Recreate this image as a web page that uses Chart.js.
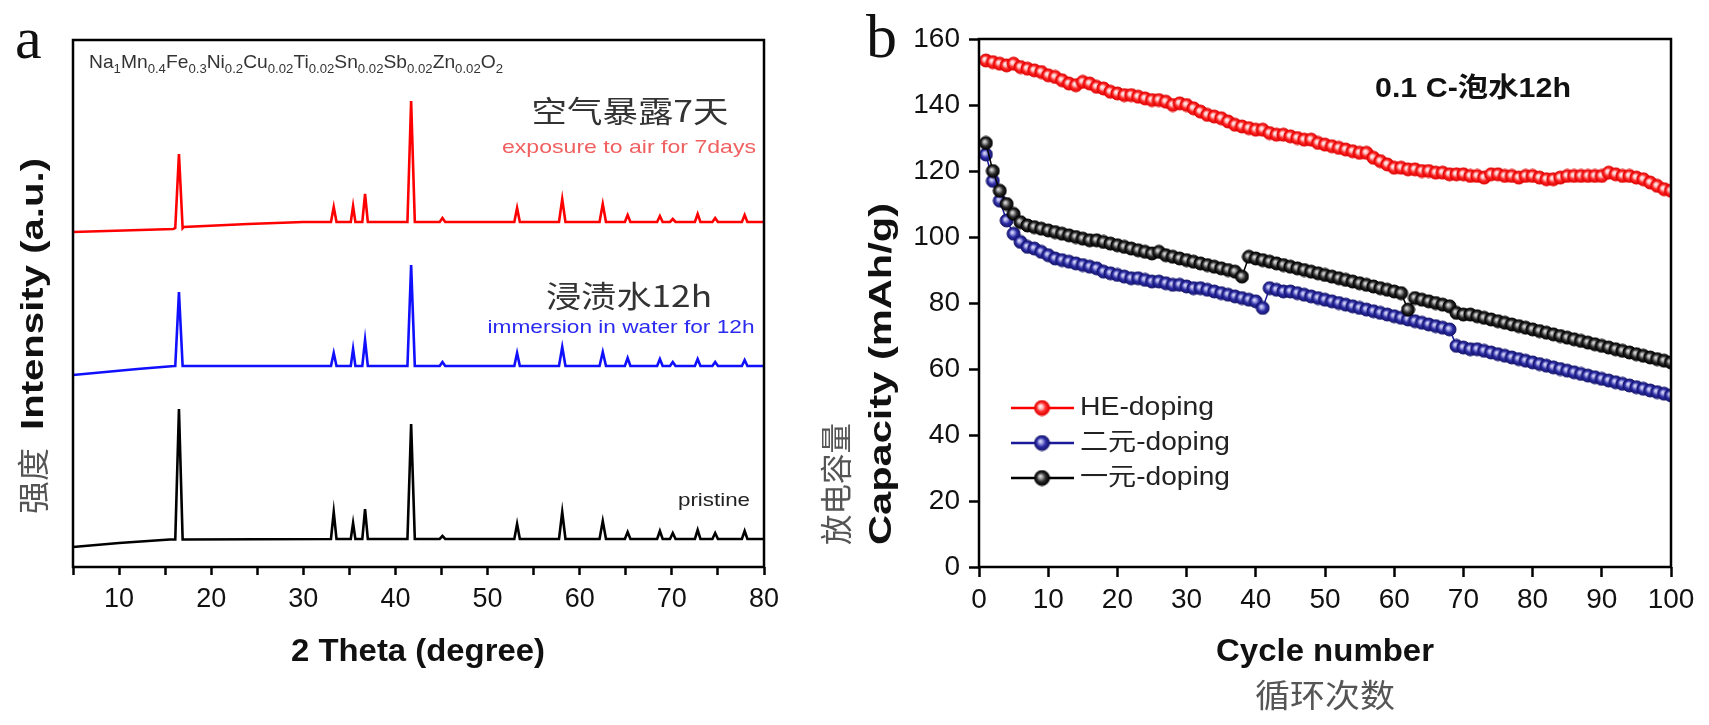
<!DOCTYPE html>
<html>
<head>
<meta charset="utf-8">
<script src="https://cdn.jsdelivr.net/npm/chart.js@4.4.1/dist/chart.umd.min.js"></script>
<style>
  html, body { margin: 0; padding: 0; background: #fff; }
  body { width: 1709px; height: 725px; position: relative; overflow: hidden; }
  #panelA { position: absolute; left: 0; top: 0; }
  #panelB { position: absolute; left: 800px; top: 0; }
</style>
</head>
<body>
<canvas id="panelA" width="800" height="725"></canvas>
<canvas id="panelB" width="909" height="725"></canvas>
<script>
// ---- panel a: XRD patterns ----
const peakPos   = [16.5, 33.3, 35.4, 36.7, 41.7, 45.1, 53.2, 58.1, 62.5, 65.2, 68.7, 70.1, 72.8, 74.7, 77.9];
const peakHalfW = [0.4, 0.3, 0.25, 0.3, 0.4, 0.3, 0.3, 0.35, 0.35, 0.3, 0.3, 0.3, 0.3, 0.3, 0.3];

const airTop  = [413, 360, 361, 373, 466, 349, 359, 368, 363, 352, 351, 348, 353, 349, 352];
const airFoot = [339, 345, 345, 345, 345, 345, 345, 345, 345, 345, 345, 345, 345, 345, 345];
const airBase = [[5, 335], [15.9, 338], [17, 340], [24, 343], [30, 345], [80, 345]];

const waterTop  = [275, 214, 218, 227, 302, 205, 214, 220, 215, 209, 208, 205, 208, 205, 207];
const waterFoot = [201, 201, 201, 201, 201, 201, 201, 201, 201, 201, 201, 201, 201, 201, 201];
const waterBase = [[5, 192], [12, 198], [16, 201], [80, 201]];

const pristineTop  = [158, 55, 44, 58, 143, 31, 43, 55, 46, 35, 36, 34, 37, 34, 36];
const pristineFoot = [27.5, 28, 28, 28, 28, 28, 28, 28, 28, 28, 28, 28, 28, 28, 28];
const pristineBase = [[5, 20], [10, 24], [15.5, 27.5], [80, 28]];

// ---- panel b: cycling ----
const cycles = Array.from({ length: 100 }, (_, i) => i + 1);
const heDoping = [
  153.5, 153, 152.5, 152, 152.5, 151.5, 151, 150.5, 150, 149,
  148.5, 147.5, 146.5, 146, 147, 146.5, 145.5, 145, 144, 143.5,
  143, 143, 142.5, 142, 141.5, 141.5, 141, 140, 140.5, 140,
  139, 138, 137, 136.5, 136, 135, 134, 133.5, 133, 132.5,
  132.5, 131.5, 131, 131, 130.5, 130, 129.5, 129.5, 128.5, 128,
  127.5, 127, 126.5, 126, 125.5, 125.5, 124, 123, 122, 121,
  121, 120.5, 120.5, 120, 120, 119.5, 119.5, 119, 119, 119,
  118.5, 118.5, 118, 119, 119, 118.5, 118.5, 118, 118.5, 118.5,
  118, 117.5, 117.5, 118, 118.5, 118.5, 118.5, 118.5, 118.5, 118.5,
  119.5, 119, 118.5, 118.5, 118, 117.5, 116.5, 115.5, 114.5, 114
];
const binaryDoping = [
  125, 117, 111, 105, 101, 98.5, 97, 96.5, 95.5, 94.5,
  93.5, 93, 92.5, 92, 91.5, 91, 90.5, 89.5, 89, 88.5,
  88, 87.5, 87.5, 87, 86.5, 86.5, 86, 85.5, 85.5, 85,
  84.5, 84.5, 84, 83.5, 83, 82.5, 82, 81.5, 81, 80.5,
  78.5, 84.5, 84, 83.5, 83.5, 83, 82.5, 82, 81.5, 81,
  80.5, 80, 79.5, 79, 78.5, 78, 77.5, 77, 76.5, 76,
  75.5, 75, 74.5, 74, 73.5, 73, 72.5, 72, 67, 66.5,
  66, 66, 65.5, 65, 64.5, 64, 63.5, 63, 62.5, 62,
  61.5, 61, 60.5, 60, 59.5, 59, 58.5, 58, 57.5, 57,
  56.5, 56, 55.5, 55, 54.5, 54, 53.5, 53, 52.5, 52
];
const unaryDoping = [
  128.5, 120, 114, 110, 107, 104.5, 103.5, 103, 102.5, 102,
  101.5, 101, 100.5, 100, 99.5, 99, 99, 98.5, 98, 97.5,
  97, 96.5, 96, 95.5, 95, 95.5, 94.5, 94, 93.5, 93,
  92.5, 92, 91.5, 91, 90.5, 90, 89.5, 88, 94, 93.5,
  93, 92.5, 92, 91.5, 91, 90.5, 90, 89.5, 89, 88.5,
  88, 87.5, 87, 86.5, 86, 85.5, 85, 84.5, 84, 83.5,
  83, 78, 81.5, 81, 80.5, 80, 79.5, 79, 77, 76.5,
  76.5, 76, 75.5, 75, 74.5, 74, 73.5, 73, 72.5, 72,
  71.5, 71, 70.5, 70, 69.5, 69, 68.5, 68, 67.5, 67,
  66.5, 66, 65.5, 65, 64.5, 64, 63.5, 63, 62.5, 62
];
const seriesNames = ["HE-doping", "二元-doping", "一元-doping"];

const SANS = "'Liberation Sans', Arial, sans-serif";
const CJK = "'Noto Sans CJK SC', sans-serif";

// build an XRD trace from baseline knots and peak triples
function buildTrace(base, tops, feet) {
  const pts = base.map(([x, y]) => ({ x, y }));
  peakPos.forEach((p, i) => {
    const w = peakHalfW[i];
    pts.push({ x: p - w, y: feet[i] }, { x: p, y: tops[i] }, { x: p + w, y: feet[i] });
  });
  return pts.sort((a, b) => a.x - b.x);
}

// text helper, squeezes/stretches to a given width
function fitText(ctx, text, x, y, font, color, width, align, rot) {
  ctx.save();
  ctx.font = font;
  ctx.fillStyle = color;
  ctx.textBaseline = "middle";
  ctx.textAlign = align || "center";
  const w = ctx.measureText(text).width;
  ctx.translate(x, y);
  if (rot) ctx.rotate(rot);
  ctx.scale(width ? width / w : 1, 1);
  ctx.fillText(text, 0, 0);
  ctx.restore();
}

const framePlugin = {
  id: "frame",
  afterDraw(chart) {
    const { ctx, chartArea: a } = chart;
    ctx.save();
    ctx.strokeStyle = "#000";
    ctx.lineWidth = 2.5;
    ctx.strokeRect(a.left, a.top, a.right - a.left, a.bottom - a.top);
    ctx.restore();
  }
};

// ---- panel a ----
const textA = {
  id: "textA",
  afterDraw(chart) {
    const ctx = chart.ctx;
    ctx.save();
    ctx.font = "60px 'Liberation Serif', serif";
    ctx.fillStyle = "#111";
    ctx.textBaseline = "alphabetic";
    ctx.fillText("a", 15, 58);
    ctx.restore();

    // formula with subscripts
    const parts = [["Na", "1"], ["Mn", "0.4"], ["Fe", "0.3"], ["Ni", "0.2"], ["Cu", "0.02"],
      ["Ti", "0.02"], ["Sn", "0.02"], ["Sb", "0.02"], ["Zn", "0.02"], ["O", "2"]];
    const mainF = "19px " + SANS, subF = "13px " + SANS;
    ctx.save();
    let total = 0;
    parts.forEach(([el, sub]) => {
      ctx.font = mainF; total += ctx.measureText(el).width;
      ctx.font = subF; total += ctx.measureText(sub).width;
    });
    ctx.translate(89, 68);
    ctx.scale(414 / total, 1);
    ctx.fillStyle = "#333";
    ctx.textBaseline = "alphabetic";
    let cx = 0;
    parts.forEach(([el, sub]) => {
      ctx.font = mainF; ctx.fillText(el, cx, 0); cx += ctx.measureText(el).width;
      ctx.font = subF; ctx.fillText(sub, cx, 5); cx += ctx.measureText(sub).width;
    });
    ctx.restore();

    fitText(ctx, "空气暴露7天", 630, 111, "30px " + CJK, "#333", 197);
    fitText(ctx, "exposure to air for 7days", 629, 148, "19px " + SANS, "#f06060", 254);
    fitText(ctx, "浸渍水12h", 629, 296, "30px " + CJK, "#333", 166);
    fitText(ctx, "immersion in water for 12h", 621, 328, "19px " + SANS, "#2a2af0", 267);
    fitText(ctx, "pristine", 714, 501, "19px " + SANS, "#222", 72);

    fitText(ctx, "2 Theta (degree)", 418, 652, "bold 32px " + SANS, "#111", 254);
    fitText(ctx, "强度", 33, 481, "32px " + CJK, "#555", 66, "center", -Math.PI / 2);
    fitText(ctx, "Intensity (a.u.)", 34, 294, "bold 32px " + SANS, "#111", 272, "center", -Math.PI / 2);
  }
};

new Chart(document.getElementById("panelA"), {
  type: "line",
  data: {
    datasets: [
      { label: "air", data: buildTrace(airBase, airTop, airFoot), borderColor: "#ff0000" },
      { label: "water", data: buildTrace(waterBase, waterTop, waterFoot), borderColor: "#1010ff" },
      { label: "pristine", data: buildTrace(pristineBase, pristineTop, pristineFoot), borderColor: "#000" }
    ]
  },
  options: {
    responsive: false,
    animation: false,
    layout: { padding: { left: 73, right: 36, top: 40, bottom: 0 } },
    elements: { point: { radius: 0 }, line: { borderWidth: 2.6, tension: 0 } },
    plugins: { legend: { display: false }, tooltip: { enabled: false } },
    scales: {
      x: {
        type: "linear", min: 5, max: 80,
        border: { display: false },
        grid: { drawOnChartArea: false, drawTicks: true, tickLength: 8, tickWidth: 2.5, tickColor: "#000" },
        ticks: {
          stepSize: 5, autoSkip: false, maxRotation: 0, padding: 8, color: "#111",
          font: { family: SANS, size: 27 },
          callback: v => (v % 10 === 0 ? String(v) : "")
        },
        afterFit(s) { s.height = 725 - 567; s.paddingLeft = 0; s.paddingRight = 0; }
      },
      y: { type: "linear", min: 0, max: 527, display: false }
    }
  },
  plugins: [framePlugin, textA]
});

// ---- panel b ----
function ball(stops, edge, r) {
  const c = document.createElement("canvas");
  const s = Math.ceil(r * 2 + 2);
  c.width = s; c.height = s;
  const g = c.getContext("2d");
  const cx = s / 2, cy = s / 2;
  const grad = g.createRadialGradient(cx - r * 0.25, cy - r * 0.25, 0, cx, cy, r);
  stops.forEach(([o, col]) => grad.addColorStop(o, col));
  g.fillStyle = grad;
  g.beginPath(); g.arc(cx, cy, r, 0, Math.PI * 2); g.fill();
  g.strokeStyle = edge; g.lineWidth = 1;
  g.stroke();
  return c;
}
const redStops = [[0, "#ffffff"], [0.3, "#ffc0c0"], [0.6, "#ff2a2a"], [1, "#e00000"]];
const blueStops = [[0, "#eef0ff"], [0.3, "#9a9ae0"], [0.6, "#2e2ea8"], [1, "#14146e"]];
const blackStops = [[0, "#f4f4f4"], [0.3, "#999"], [0.6, "#2a2a2a"], [1, "#000"]];
const ballsB = [ball(redStops, "#e00000", 6.5), ball(blueStops, "#14146e", 6.5), ball(blackStops, "#000", 6.5)];
const legendBalls = [ball(redStops, "#e00000", 7.5), ball(blueStops, "#14146e", 7.5), ball(blackStops, "#000", 7.5)];
const colorsB = ["#ff0000", "#1a1a9a", "#000"];

const textB = {
  id: "textB",
  afterDraw(chart) {
    const ctx = chart.ctx;
    ctx.save();
    ctx.font = "62px 'Liberation Serif', serif";
    ctx.fillStyle = "#111";
    ctx.textBaseline = "alphabetic";
    ctx.fillText("b", 66, 57);
    ctx.restore();

    fitText(ctx, "0.1 C-泡水12h", 673, 90, "bold 27px " + SANS + ", " + CJK, "#111", 196);

    fitText(ctx, "Cycle number", 525, 652, "bold 32px " + SANS, "#111", 218);
    fitText(ctx, "循环次数", 525, 695, "32px " + CJK, "#555", 140);
    fitText(ctx, "放电容量", 36, 484, "32px " + CJK, "#555", 122, "center", -Math.PI / 2);
    fitText(ctx, "Capacity (mAh/g)", 82, 374, "bold 32px " + SANS, "#111", 342, "center", -Math.PI / 2);

    // legend
    const rows = [408, 443, 478];
    const widths = [134, 150, 150];
    seriesNames.forEach((name, i) => {
      const y = rows[i];
      const b = legendBalls[i];
      ctx.save();
      ctx.strokeStyle = colorsB[i];
      ctx.lineWidth = 2.5;
      ctx.beginPath(); ctx.moveTo(211, y); ctx.lineTo(274, y); ctx.stroke();
      ctx.drawImage(b, 242 - b.width / 2, y - b.height / 2);
      ctx.restore();
      fitText(ctx, name, 280, y, "25px " + SANS + ", " + CJK, "#222", widths[i], "left");
    });
  }
};

function seriesB(label, values, i, order) {
  return {
    label,
    data: values.map((v, k) => ({ x: cycles[k], y: v })),
    borderColor: colorsB[i],
    backgroundColor: colorsB[i],
    borderWidth: 1.5,
    pointStyle: ballsB[i],
    pointRadius: 6.5,
    order
  };
}

new Chart(document.getElementById("panelB"), {
  type: "line",
  data: {
    datasets: [
      seriesB(seriesNames[0], heDoping, 0, 2),
      seriesB(seriesNames[1], binaryDoping, 1, 1),
      seriesB(seriesNames[2], unaryDoping, 2, 0)
    ]
  },
  options: {
    responsive: false,
    animation: false,
    layout: { padding: { left: 0, right: 38, top: 39, bottom: 0 } },
    plugins: { legend: { display: false }, tooltip: { enabled: false } },
    scales: {
      x: {
        type: "linear", min: 0, max: 100,
        border: { display: false },
        grid: { drawOnChartArea: false, drawTicks: true, tickLength: 10, tickWidth: 2.5, tickColor: "#000" },
        ticks: { stepSize: 10, autoSkip: false, maxRotation: 0, padding: 6, color: "#111", font: { family: SANS, size: 28 } },
        afterFit(s) { s.height = 725 - 567; s.paddingLeft = 0; s.paddingRight = 0; }
      },
      y: {
        type: "linear", min: 0, max: 160,
        border: { display: false },
        grid: { drawOnChartArea: false, drawTicks: true, tickLength: 10, tickWidth: 2.5, tickColor: "#000" },
        ticks: { stepSize: 20, padding: 9, color: "#111", font: { family: SANS, size: 28 } },
        afterFit(s) { s.width = 179; s.paddingTop = 0; s.paddingBottom = 0; }
      }
    }
  },
  plugins: [framePlugin, textB]
});
</script>
</body>
</html>
